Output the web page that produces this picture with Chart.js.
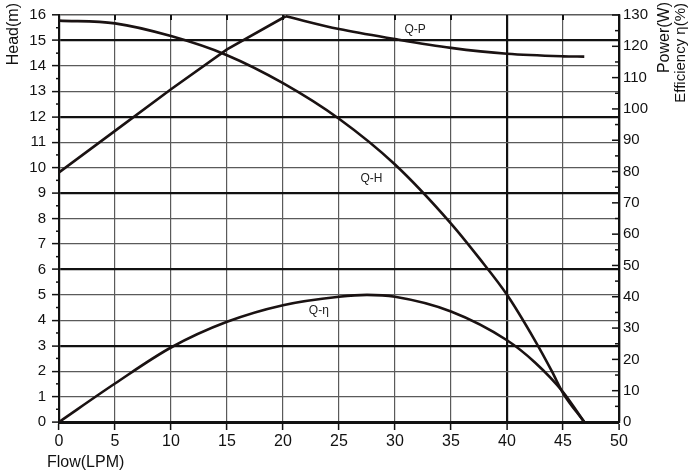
<!DOCTYPE html>
<html>
<head>
<meta charset="utf-8">
<script src="https://cdn.jsdelivr.net/npm/chart.js@4.4.1/dist/chart.umd.min.js"></script>
<style>
  html, body { margin: 0; padding: 0; background: #fff; }
  #wrap { width: 700px; height: 476px; }
</style>
</head>
<body>
<div id="wrap"><canvas id="chart"></canvas></div>
<script>
// Q-H curve (head, m)
const headFlow = [0, 5, 10, 15, 20, 25, 30, 35, 37.5, 40, 42.5, 44, 45, 46.9];
const headValues = [15.78, 15.67, 15.17, 14.42, 13.32, 11.92, 10.12, 7.8, 6.45, 5.0, 3.2, 2.0, 1.14, 0];

// Q-P curve (power, W) - rising part and falling part
const powerRiseFlow = [0, 5, 10, 15, 20.25];
const powerRiseValues = [79.7, 93.0, 106.3, 119.0, 129.6];
const powerFallFlow = [20.25, 25, 30, 35, 40, 45, 46.9];
const powerFallValues = [129.6, 125.5, 122.3, 119.5, 117.6, 116.8, 116.7];

// Q-η curve (efficiency, %)
const effFlow = [0, 5, 10, 15, 20, 25, 27.5, 30, 35, 40, 42.5, 45, 46.9];
const effValues = [0, 12.3, 23.8, 32.0, 37.3, 40.0, 40.6, 40.0, 35.3, 26.1, 19.0, 9.6, 0];

const lineColor = '#1a1212';
const toPoints = (xs, ys) => xs.map((x, i) => ({ x: x, y: ys[i] }));

// curve names, drawn next to the curves
const curveLabels = [
  { text: 'Q-P', x: 31.8, y: 15.42 },
  { text: 'Q-H', x: 27.9, y: 9.55 },
  { text: 'Q-η', x: 23.2, y: 4.36 }
];

const extras = {
  id: 'extras',
  afterDraw(chart) {
    const ctx = chart.ctx;
    const a = chart.chartArea;
    const xs = chart.scales.x, ys = chart.scales.y, y2 = chart.scales.y2;
    ctx.save();
    ctx.strokeStyle = '#111';
    ctx.lineWidth = 1.5;
    // minor ticks on the left axis
    for (let v = 0.5; v < 16; v += 1) {
      const py = ys.getPixelForValue(v);
      ctx.beginPath(); ctx.moveTo(a.left - 3, py); ctx.lineTo(a.left, py); ctx.stroke();
    }
    // inward ticks on the right axis
    for (let v = 0; v <= 130; v += 5) {
      const py = y2.getPixelForValue(v);
      const len = v % 10 === 0 ? 7 : 4;
      ctx.beginPath(); ctx.moveTo(a.right - len, py); ctx.lineTo(a.right, py); ctx.stroke();
    }
    // small ticks along the top border
    ctx.lineWidth = 2;
    for (let v = 5; v < 50; v += 5) {
      const px = xs.getPixelForValue(v);
      ctx.beginPath(); ctx.moveTo(px, a.top); ctx.lineTo(px, a.top + 5); ctx.stroke();
    }

    // curve labels
    ctx.fillStyle = '#222';
    ctx.font = '12px "Liberation Sans", Arial, sans-serif';
    ctx.textAlign = 'center';
    ctx.textBaseline = 'middle';
    curveLabels.forEach(l => {
      ctx.fillText(l.text, xs.getPixelForValue(l.x), ys.getPixelForValue(l.y));
    });

    // axis titles
    ctx.fillStyle = '#111';
    ctx.textBaseline = 'alphabetic';
    const vtext = (text, x, yEnd, font) => {
      ctx.save();
      ctx.translate(x, yEnd);
      ctx.rotate(-Math.PI / 2);
      ctx.font = font;
      ctx.textAlign = 'right';
      ctx.fillText(text, 0, 0);
      ctx.restore();
    };
    vtext('Head(m)', 18, 3, '16px "Liberation Sans", Arial, sans-serif');
    vtext('Power(W)', 669, 2, '16px "Liberation Sans", Arial, sans-serif');
    vtext('Efficiency η(%)', 685, 3, '15px "Liberation Sans", Arial, sans-serif');
    ctx.font = '16px "Liberation Sans", Arial, sans-serif';
    ctx.textAlign = 'left';
    ctx.fillText('Flow(LPM)', 47, 467);
    ctx.restore();
  }
};

const baseLine = {
  showLine: true,
  borderColor: lineColor,
  borderWidth: 2.6,
  pointRadius: 0,
  fill: false
};

const ctx = document.getElementById('chart').getContext('2d');
const chart = new Chart(ctx, {
  type: 'scatter',
  data: {
    datasets: [
      Object.assign({ label: 'Q-H', data: toPoints(headFlow, headValues), yAxisID: 'y', cubicInterpolationMode: 'monotone' }, baseLine),
      Object.assign({ label: 'Q-P', data: toPoints(powerRiseFlow, powerRiseValues), yAxisID: 'y2', tension: 0 }, baseLine),
      Object.assign({ label: 'Q-P', data: toPoints(powerFallFlow, powerFallValues), yAxisID: 'y2', cubicInterpolationMode: 'monotone' }, baseLine),
      Object.assign({ label: 'Q-η', data: toPoints(effFlow, effValues), yAxisID: 'y2', cubicInterpolationMode: 'monotone' }, baseLine)
    ]
  },
  options: {
    responsive: true,
    maintainAspectRatio: false,
    animation: false,
    layout: { padding: { top: 14, left: 0, right: 0, bottom: 0 } },
    plugins: { legend: { display: false }, tooltip: { enabled: false } },
    scales: {
      x: {
        type: 'linear',
        min: 0, max: 50,
        afterFit: s => { s.height = 54; },
        ticks: { stepSize: 5, color: '#111', padding: 2, font: { size: 16, family: '"Liberation Sans", Arial, sans-serif' } },
        border: { display: true, color: '#111', width: 3 },
        grid: {
          color: c => (c.tick && (c.tick.value === 40 || c.tick.value === 50)) ? '#111' : '#5a5a5a',
          lineWidth: c => (c.tick && (c.tick.value === 40 || c.tick.value === 50)) ? 2.2 : 1.2,
          tickLength: 8, tickWidth: 1.5, tickColor: '#111'
        }
      },
      y: {
        position: 'left',
        min: 0, max: 16,
        afterFit: s => { s.width = 59; },
        ticks: { stepSize: 1, color: '#111', padding: 6, font: { size: 15, family: '"Liberation Sans", Arial, sans-serif' } },
        border: { display: true, color: '#111', width: 2.2 },
        grid: {
          color: c => (c.tick && c.tick.value % 3 === 0) ? '#111' : '#5a5a5a',
          lineWidth: c => (c.tick && c.tick.value % 3 === 0) ? 2.2 : (c.tick && c.tick.value === 16 ? 1.6 : 1.2),
          tickLength: 7, tickWidth: 1.5, tickColor: '#111'
        }
      },
      y2: {
        position: 'right',
        min: 0, max: 130,
        afterFit: s => { s.width = 81; },
        ticks: { stepSize: 10, color: '#111', padding: 4, font: { size: 15, family: '"Liberation Sans", Arial, sans-serif' } },
        border: { display: true, color: '#111', width: 2.2 },
        grid: { drawOnChartArea: false, drawTicks: false }
      }
    }
  },
  plugins: [extras]
});
</script>
</body>
</html>
